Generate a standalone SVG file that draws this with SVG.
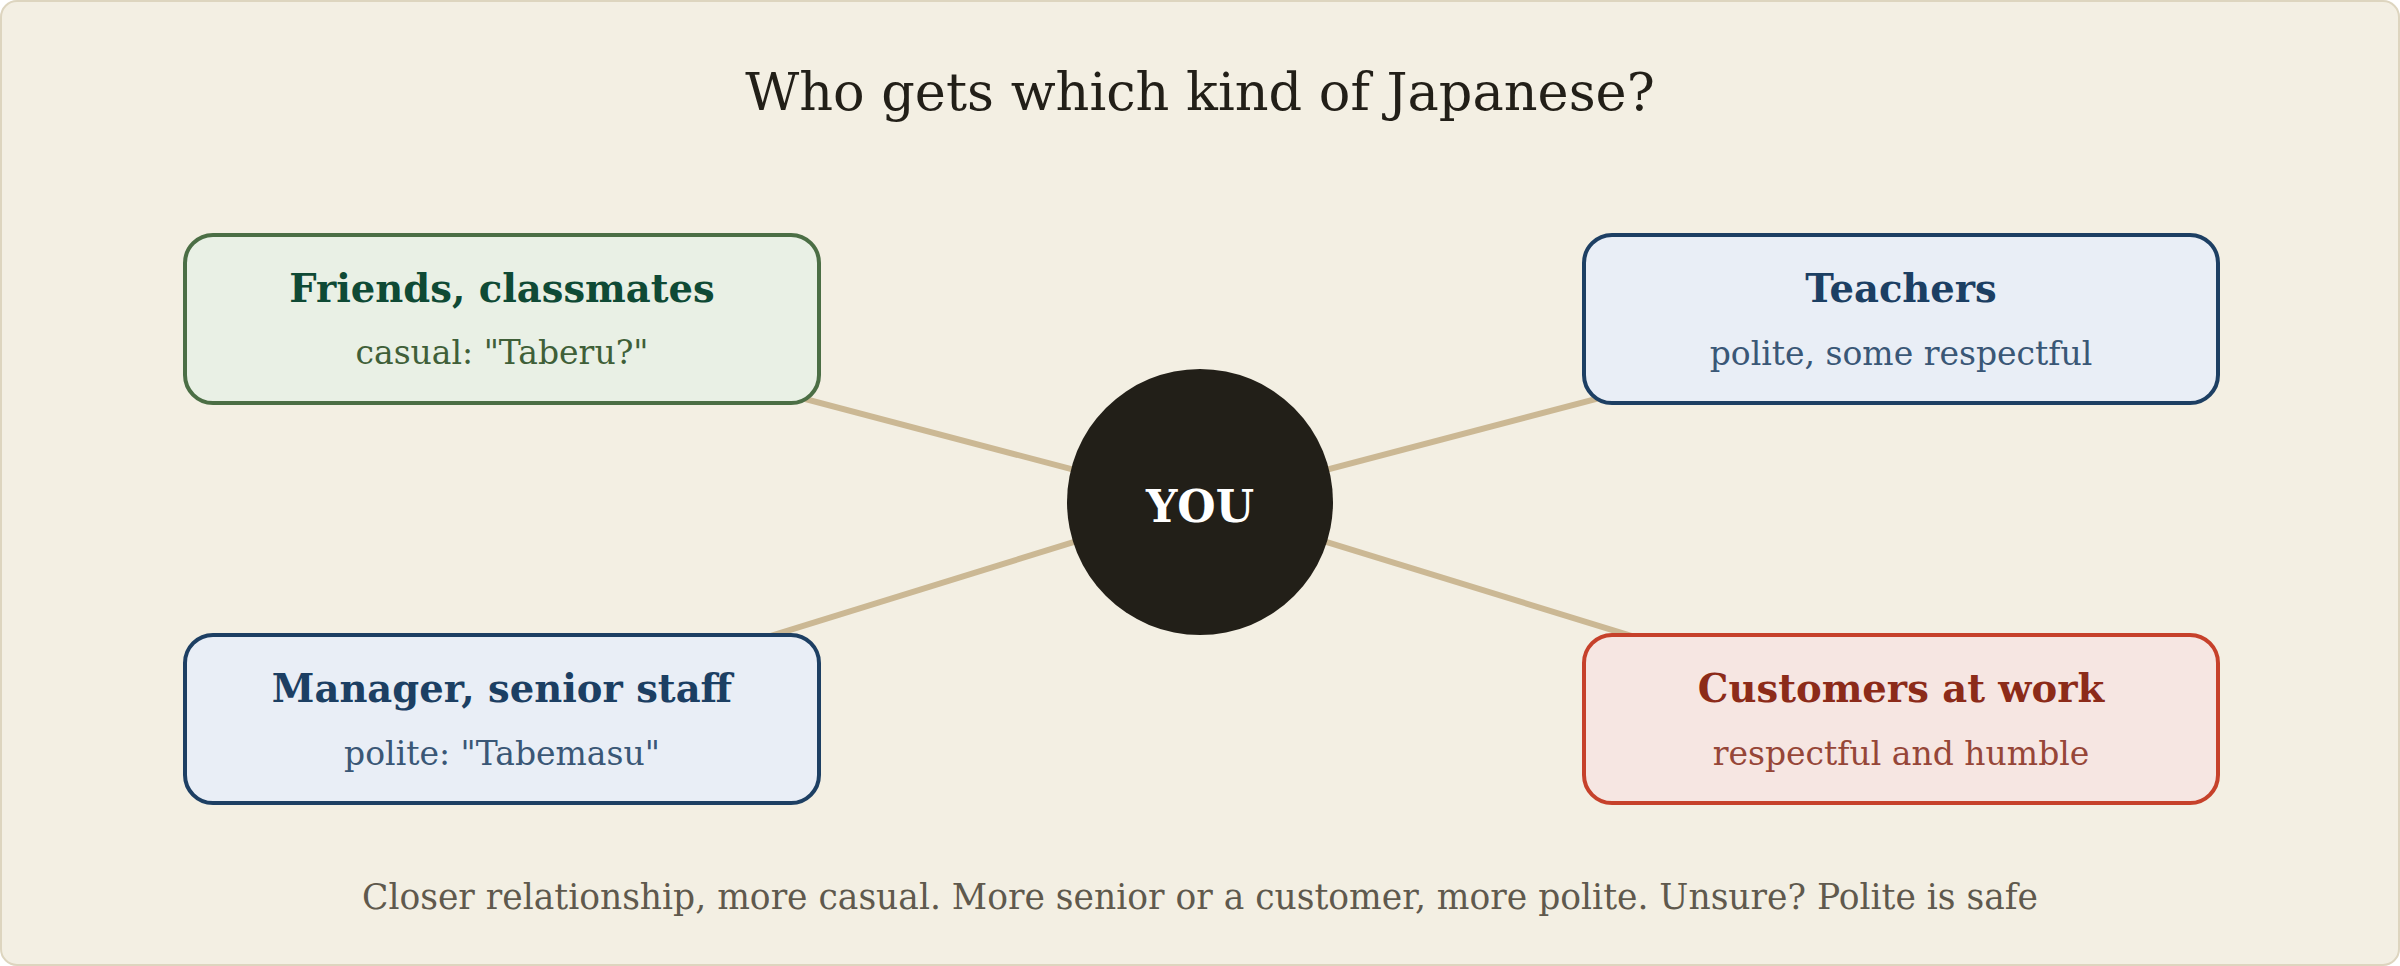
<svg xmlns="http://www.w3.org/2000/svg" width="2400" height="966" viewBox="0 0 2400 966">
<style>
.t{font-family:"DejaVu Serif","Liberation Serif",serif;text-anchor:middle}
.h{font-weight:bold;font-size:38.5px}
.s{font-size:33px}
.box{stroke-width:4}
.green rect{fill:#e9f0e5;stroke:#4b6e45}
.green .h{fill:#0f4a35}
.green .s{fill:#3f5f38}
.blue rect{fill:#e9eef6;stroke:#1d3f63}
.blue .h{fill:#1c3f63}
.blue .s{fill:#3a5776}
.red rect{fill:#f6e6e2;stroke:#c6412b}
.red .h{fill:#8c2b19}
.red .s{fill:#964638}
</style>
<rect x="1" y="1" width="2398" height="964" rx="16" fill="#f3efe3" stroke="#ddd5bf" stroke-width="2"/>
<text class="t" x="1200" y="110" font-size="52.5" fill="#221f18">Who gets which kind of Japanese?</text>
<g id="connectors" stroke="#cbb894" stroke-width="6">
<line x1="1200" y1="503" x2="502" y2="319"/>
<line x1="1200" y1="503" x2="1901" y2="319"/>
<line x1="1200" y1="503" x2="502" y2="719"/>
<line x1="1200" y1="503" x2="1901" y2="719"/>
</g>
<g id="friends" class="green">
<rect class="box" x="185" y="235" width="634" height="168" rx="28"/>
<text class="t h" x="502" y="302">Friends, classmates</text>
<text class="t s" x="502" y="364">casual: "Taberu?"</text>
</g>
<g id="teachers" class="blue">
<rect class="box" x="1584" y="235" width="634" height="168" rx="28"/>
<text class="t h" x="1901" y="302">Teachers</text>
<text class="t s" x="1901" y="365">polite, some respectful</text>
</g>
<g id="manager" class="blue">
<rect class="box" x="185" y="635" width="634" height="168" rx="28"/>
<text class="t h" x="502" y="702">Manager, senior staff</text>
<text class="t s" x="502" y="765">polite: "Tabemasu"</text>
</g>
<g id="customers" class="red">
<rect class="box" x="1584" y="635" width="634" height="168" rx="28"/>
<text class="t h" x="1901" y="702">Customers at work</text>
<text class="t s" x="1901" y="765">respectful and humble</text>
</g>
<g id="you">
<circle cx="1200" cy="502" r="133" fill="#221f18"/>
<text class="t" x="1200" y="522" font-size="44" font-weight="bold" fill="#ffffff">YOU</text>
</g>
<text class="t" x="1200" y="909" font-size="34.5" fill="#5f594d">Closer relationship, more casual. More senior or a customer, more polite. Unsure? Polite is safe</text>
</svg>
